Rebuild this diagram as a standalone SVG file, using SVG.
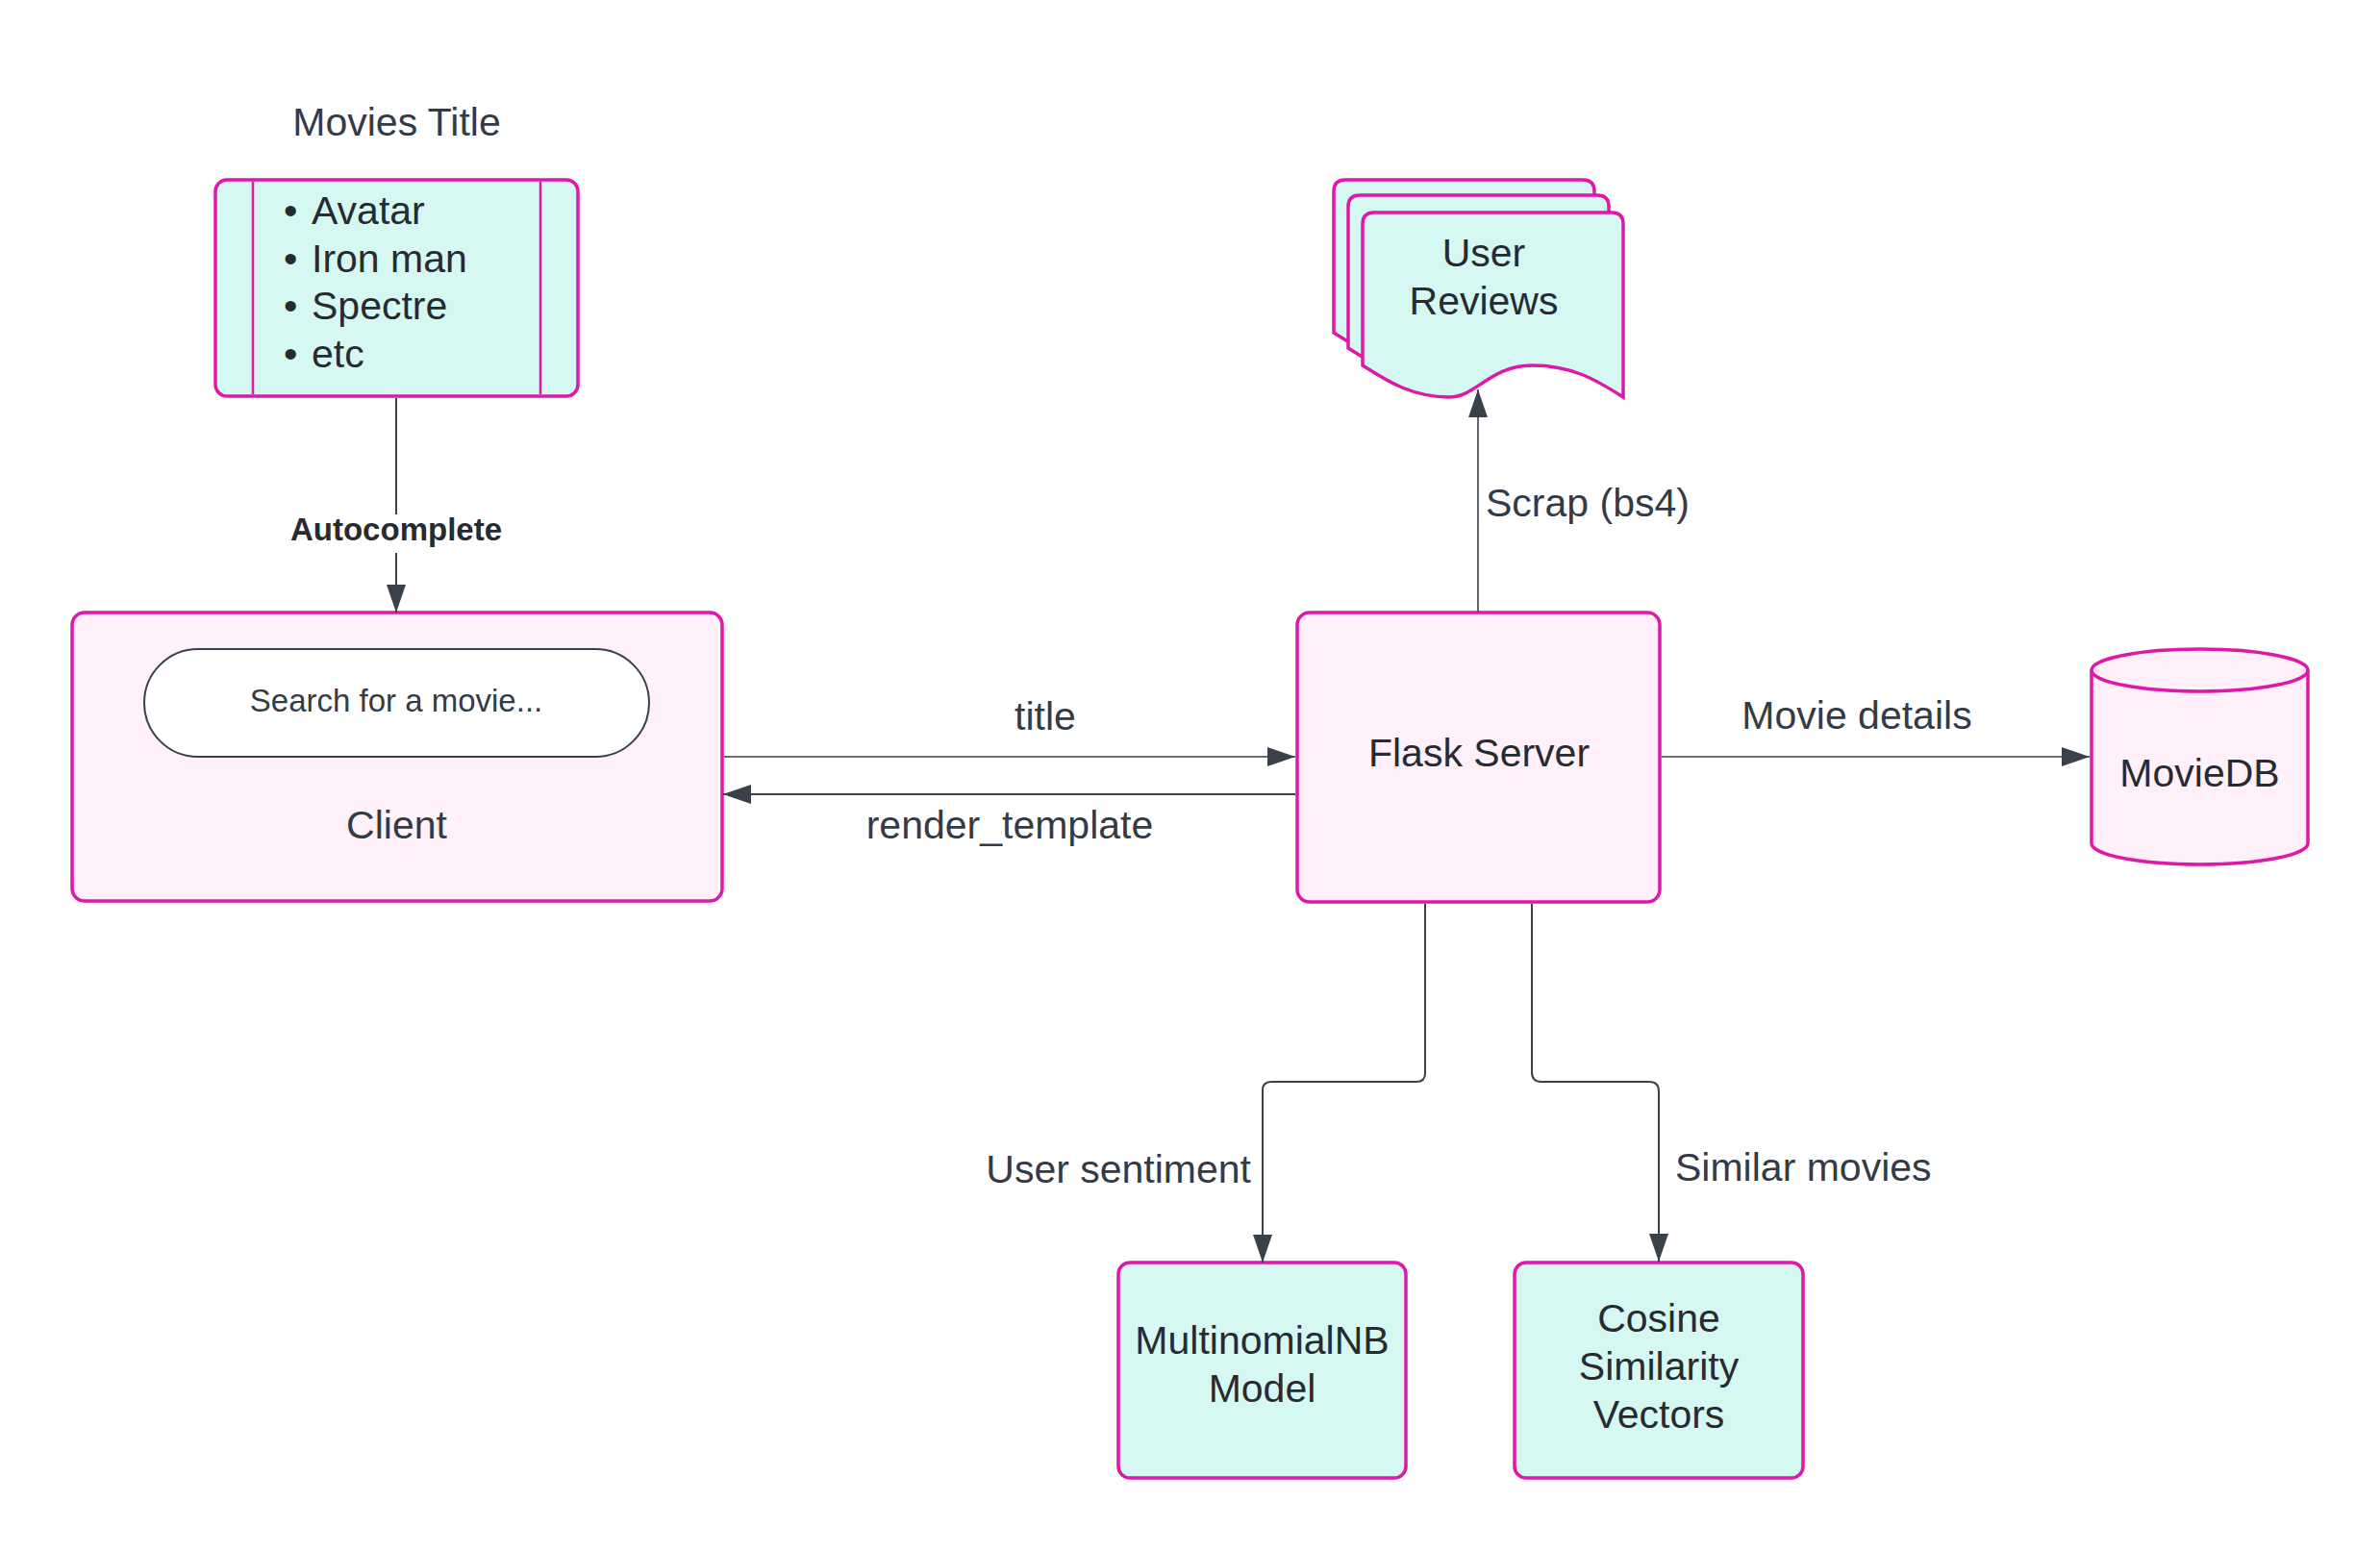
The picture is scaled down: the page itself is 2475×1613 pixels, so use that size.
<svg xmlns="http://www.w3.org/2000/svg" width="2475" height="1613" viewBox="0 0 2475 1613">
<style>
text{font-family:"Liberation Sans",Arial,sans-serif;font-size:41px;fill:#333a44}
.node{stroke:#de19a9;stroke-width:3.5}
.cyan{fill:#d6f8f2}
.pink{fill:#fff0fa}
.nt{fill:#272b31;text-anchor:middle}
.lbl{fill:#343b46}
.c{fill:none;stroke:#3a414a;stroke-width:1.6}
.c2{fill:none;stroke:#3a414a;stroke-width:2}
</style>
<defs>
<marker id="ah" markerUnits="userSpaceOnUse" markerWidth="30" markerHeight="20" refX="29" refY="10" orient="auto">
<path d="M0,0 L29,10 L0,20 Z" fill="#3a414a"/>
</marker>
</defs>
<rect width="2475" height="1613" fill="#ffffff"/>

<g id="movies-title">
<text x="412.5" y="141" text-anchor="middle" class="lbl">Movies Title</text>
<rect x="224" y="187" width="377" height="225" rx="12" class="node cyan"/>
<line x1="263" y1="189" x2="263" y2="410" stroke="#de19a9" stroke-width="2.5"/>
<line x1="562" y1="189" x2="562" y2="410" stroke="#de19a9" stroke-width="2.5"/>
<text fill="#272b31" style="fill:#272b31"><tspan x="295" y="233">•</tspan><tspan x="324" y="233">Avatar</tspan><tspan x="295" y="283">•</tspan><tspan x="324" y="283">Iron man</tspan><tspan x="295" y="332">•</tspan><tspan x="324" y="332">Spectre</tspan><tspan x="295" y="382">•</tspan><tspan x="324" y="382">etc</tspan></text>
</g>

<g id="client">
<rect x="75" y="637" width="676" height="300" rx="13" class="node pink"/>
<rect x="150" y="675" width="525" height="112" rx="56" fill="#ffffff" stroke="#3a414a" stroke-width="2"/>
<text x="412" y="740" text-anchor="middle" style="font-size:33px" class="lbl">Search for a movie...</text>
<text x="412.5" y="872" class="nt" style="fill:#333a44">Client</text>
</g>

<g id="user-reviews">
<path d="M1387,199 Q1387,187 1399,187 H1646 Q1658,187 1658,199 V379 C1630,361 1605,346 1563,346 C1520,346 1505,379 1477,379 C1440,379 1415,364 1387,346 Z" class="node cyan"/>
<path d="M1402,215 Q1402,203 1414,203 H1661 Q1673,203 1673,215 V395 C1645,377 1620,362 1578,362 C1535,362 1520,395 1492,395 C1455,395 1430,380 1402,362 Z" class="node cyan"/>
<path d="M1417,233 Q1417,221 1429,221 H1676 Q1688,221 1688,233 V413 C1660,395 1635,380 1593,380 C1550,380 1535,413 1507,413 C1470,413 1445,398 1417,380 Z" class="node cyan"/>
<text x="1543" y="277" class="nt">User</text>
<text x="1543" y="327" class="nt">Reviews</text>
</g>

<g id="flask-server">
<rect x="1349" y="637" width="377" height="301" rx="13" class="node pink"/>
<text x="1538" y="797" class="nt">Flask Server</text>
</g>

<g id="moviedb">
<path d="M2175,697 V877 A112.5,22 0 0 0 2400,877 V697 A112.5,22 0 0 0 2175,697 Z" class="node pink"/>
<path d="M2175,697 A112.5,22 0 0 0 2400,697" fill="none" class="node"/>
<text x="2287.5" y="818" class="nt">MovieDB</text>
</g>

<g id="multinomialnb">
<rect x="1163" y="1313" width="299" height="224" rx="12" class="node cyan"/>
<text x="1312.5" y="1408" class="nt">MultinomialNB</text>
<text x="1312.5" y="1458" class="nt">Model</text>
</g>

<g id="cosine">
<rect x="1575" y="1313" width="300" height="224" rx="12" class="node cyan"/>
<text x="1725" y="1385" class="nt">Cosine</text>
<text x="1725" y="1435" class="nt">Similarity</text>
<text x="1725" y="1485" class="nt">Vectors</text>
</g>

<g id="connectors">
<path d="M412,414 V535" class="c2"/>
<path d="M412,575 V637" class="c2" marker-end="url(#ah)"/>
<text x="412" y="562" text-anchor="middle" style="font-size:33px;font-weight:bold;fill:#272b31">Autocomplete</text>

<path d="M753,787 H1347" class="c" marker-end="url(#ah)"/>
<text x="1087" y="759" text-anchor="middle" class="lbl">title</text>

<path d="M1347,826 H752" class="c2" marker-end="url(#ah)"/>
<text x="1050" y="872" text-anchor="middle" class="lbl">render_template</text>

<path d="M1537,636 V405" class="c" marker-end="url(#ah)"/>
<text x="1545" y="537" class="lbl">Scrap (bs4)</text>

<path d="M1728,787 H2173" class="c" marker-end="url(#ah)"/>
<text x="1931" y="758" text-anchor="middle" class="lbl">Movie details</text>

<path d="M1482,940 V1116 Q1482,1125 1473,1125 H1322 Q1313,1125 1313,1134 V1313" class="c2" marker-end="url(#ah)"/>
<text x="1301" y="1230" text-anchor="end" class="lbl">User sentiment</text>

<path d="M1593,940 V1115 Q1593,1125 1603,1125 H1715 Q1725,1125 1725,1135 V1312" class="c2" marker-end="url(#ah)"/>
<text x="1742" y="1228" class="lbl">Similar movies</text>
</g>
</svg>
